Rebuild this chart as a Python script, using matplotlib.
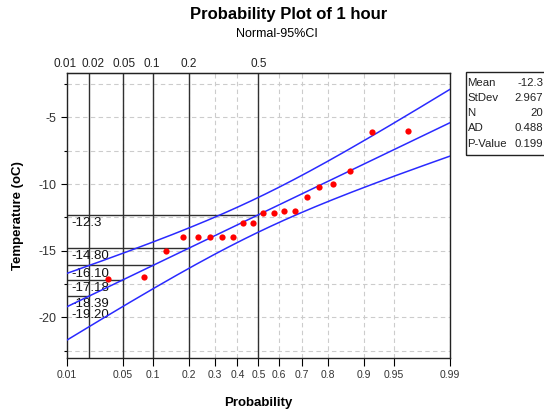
import numpy as np
import matplotlib
matplotlib.use("Agg")
import matplotlib.pyplot as plt
from matplotlib.patches import Rectangle
from matplotlib.transforms import ScaledTranslation
from statistics import NormalDist

plt.rcParams['font.family'] = ['Liberation Sans', 'DejaVu Sans']

# sorted temperatures (oC)
temps = [-17.1, -17.0, -15.0, -14.0, -14.0, -14.0, -14.0, -14.0, -12.9, -12.9,
         -12.2, -12.2, -12.0, -12.0, -11.0, -10.2, -10.0, -9.0, -6.1, -6.0]

# fitted normal parameters shown in the stats box
mean = -12.3
stdev = 2.967
n = 20
ad = 0.488
p_value = 0.199

# probability ticks
bottom_probs = [0.01, 0.05, 0.1, 0.2, 0.3, 0.4, 0.5, 0.6, 0.7, 0.8, 0.9, 0.95, 0.99]
bottom_labels = ['0.01', '0.05', '0.1', '0.2', '0.3', '0.4', '0.5', '0.6', '0.7', '0.8', '0.9', '0.95', '0.99']
top_probs = [0.01, 0.02, 0.05, 0.1, 0.2, 0.5]
top_labels = ['0.01', '0.02', '0.05', '0.1', '0.2', '0.5']

# percentile reference lines and their labels
ref_probs = [0.5, 0.2, 0.1, 0.05, 0.02, 0.01]
ref_labels = ['-12.3', '-14.80', '-16.10', '-17.18', '-18.39', '-19.20']

nd = NormalDist()
z = lambda p: nd.inv_cdf(p)

# median rank plotting positions
ranks = np.arange(1, n + 1)
pp = (ranks - 0.3) / (n + 0.4)
zx = np.array([z(p) for p in pp])

zmin, zmax = z(0.01), z(0.99)
zz = np.linspace(zmin, zmax, 200)
fit = mean + stdev * zz
se = stdev * np.sqrt(1.0 / n + zz ** 2 / (2.0 * n))
upper = fit + 1.96 * se
lower = fit - 1.96 * se

fig = plt.figure(figsize=(5.44, 4.09), dpi=100)
ax = fig.add_axes([0.1226, 0.1259, 0.7046, 0.6963])

ylo, yhi = -23.0, -1.65
ax.set_xlim(zmin, zmax)
ax.set_ylim(ylo, yhi)

# dashed grid
for p in bottom_probs:
    ax.axvline(z(p), color='#cccccc', lw=0.8, ls=(0, (4, 3)), zorder=0)
for yv in np.arange(-22.5, -2.0, 2.5):
    ax.axhline(yv, color='#cccccc', lw=0.8, ls=(0, (4, 3)), zorder=0)

# percentile reference lines
for p in top_probs[1:]:
    ax.axvline(z(p), color='#303030', lw=1.0, zorder=1)
for p, lab in zip(ref_probs, ref_labels):
    yv = mean + stdev * z(p)
    ax.plot([zmin, z(p)], [yv, yv], color='#303030', lw=1.0, zorder=1)
    ax.text(zmin + 0.06, yv - 0.15, lab, fontsize=9.5, va='top', ha='left', color='#111111', zorder=2)

# fit and confidence bands
ax.plot(zz, fit, color='#2a2aff', lw=1.1, zorder=3)
ax.plot(zz, upper, color='#2a2aff', lw=1.1, zorder=3)
ax.plot(zz, lower, color='#2a2aff', lw=1.1, zorder=3)

ax.plot(zx, temps, 'o', color='#ff0000', ms=4.5, mec='none', zorder=4)

# axes ticks
ax.set_xticks([z(p) for p in bottom_probs])
ax.set_xticklabels(bottom_labels, fontsize=7.5, color='#333333')
ax.tick_params(axis='x', direction='out', length=6, width=0.8, pad=3)
ax.set_yticks([-20, -15, -10, -5])
ax.set_yticklabels(['-20', '-15', '-10', '-5'], fontsize=9, color='#333333')
ax.set_yticks(np.arange(-22.5, -2.0, 2.5), minor=True)
ax.tick_params(axis='y', which='major', direction='out', length=4, width=0.8)
ax.tick_params(axis='y', which='minor', direction='out', length=2, width=0.8)
for s in ax.spines.values():
    s.set_color('#222222')
    s.set_linewidth(1.0)

ax_top = ax.secondary_xaxis('top')
ax_top.set_xticks([z(p) for p in top_probs])
ax_top.set_xticklabels(top_labels, fontsize=8.5, color='#222222')
ax_top.tick_params(length=0, pad=2)
# nudge the crowded left labels apart as in the original
shifts = [-2, 4, 1, -1, 0, 0]
for lab, dx in zip(ax_top.get_xticklabels(), shifts):
    lab.set_transform(lab.get_transform() + ScaledTranslation(dx / 100, 0, fig.dpi_scale_trans))

ax.set_xlabel('Probability', fontsize=9.5, fontweight='bold', labelpad=12)
ax.set_ylabel('Temperature (oC)', fontsize=9.5, fontweight='bold', labelpad=10)

fig.text(289 / 544, 1 - 15 / 409, 'Probability Plot of 1 hour', fontsize=12,
         fontweight='bold', ha='center', va='center')
fig.text(277 / 544, 1 - 34 / 409, 'Normal-95%CI', fontsize=9, ha='center', va='center')

# stats box
W, H = 544.0, 409.0
fig.patches.append(Rectangle((466 / W, 1 - 154.5 / H), 90 / W, 82 / H,
                             transform=fig.transFigure, fill=False,
                             edgecolor='#222222', lw=1.0))
names = ['Mean', 'StDev', 'N', 'AD', 'P-Value']
vals = [f'{mean}', f'{stdev:.3f}', f'{n}', f'{ad:.3f}', f'{p_value:.3f}']
for i, (nm, v) in enumerate(zip(names, vals)):
    yy = 1 - (82.5 + i * 15.3) / H
    fig.text(467.5 / W, yy, nm, fontsize=8.2, ha='left', va='center', color='#222222')
    fig.text(543 / W, yy, v, fontsize=8.2, ha='right', va='center', color='#222222')

fig.savefig('out.png', dpi=100)
